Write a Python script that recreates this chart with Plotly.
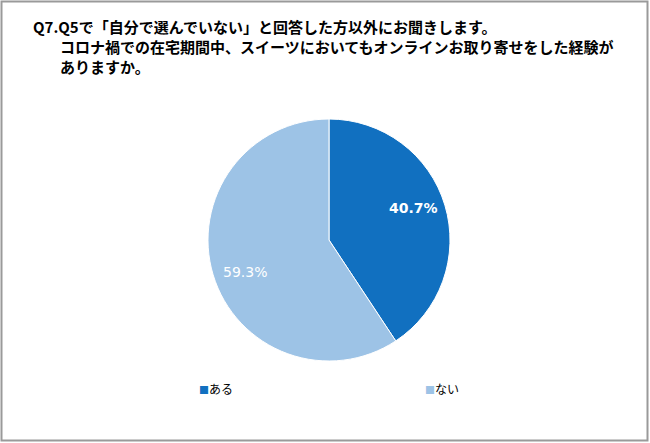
import math
import plotly.graph_objects as go

labels = ["ある", "ない"]
values = [40.7, 59.3]
colors = ["#1170C0", "#9DC3E6"]
title_lines = [
    "Q7.Q5で「自分で選んでいない」と回答した方以外にお聞きします。",
    "コロナ禍での在宅期間中、スイーツにおいてもオンラインお取り寄せをした経験が",
    "ありますか。",
]

W, H = 650, 443
CX, CY, R = 329, 240, 121
fig = go.Figure()
fig.add_trace(go.Pie(
    labels=labels, values=values, sort=False, direction="clockwise", rotation=0,
    marker=dict(colors=colors, line=dict(color="white", width=1)),
    textinfo="none",
    domain=dict(x=[(CX - R) / W, (CX + R) / W], y=[(H - CY - R) / H, (H - CY + R) / H]),
    showlegend=False, hoverinfo="label+percent",
))

# slice labels placed near mid-angle of each slice
total = sum(values)
cum = 0.0
for i, v in enumerate(values):
    mid = (cum + v / 2) / total * 2 * math.pi - math.radians(3.8)
    cum += v
    r = 0.745 * R
    px = CX + r * math.sin(mid)
    py = CY - r * math.cos(mid)
    txt = "%.1f%%" % v
    if i == 0:
        txt = "<b>%s</b>" % txt
    fig.add_annotation(
        x=px / W, y=1 - py / H, xref="paper", yref="paper", xanchor="center", yanchor="middle",
        text=txt, showarrow=False,
        font=dict(family="DejaVu Sans", size=14, color="white"),
    )

title_x = [31, 58, 58]
title_y = [27, 46.5, 66]
for tx, ty, t in zip(title_x, title_y, title_lines):
    fig.add_annotation(
        x=tx / W, y=1 - ty / H, xref="paper", yref="paper", xanchor="left", yanchor="middle",
        text="<b>%s</b>" % t, align="left", showarrow=False,
        font=dict(family="Noto Sans CJK JP", size=15, color="#000000"),
    )

leg_x = [197, 423]
for lx, lab, col in zip(leg_x, labels, colors):
    fig.add_annotation(
        x=lx / W, y=1 - 388 / H, xref="paper", yref="paper", xanchor="left", yanchor="middle",
        text="<span style='color:%s;font-size:10px'>■</span>%s" % (col, lab), showarrow=False,
        font=dict(family="Noto Sans CJK JP", size=12, color="#000000"),
    )

fig.add_shape(type="rect", xref="paper", yref="paper",
              x0=1.5 / W, x1=647.5 / W, y0=1 - 440.5 / H, y1=1 - 1.5 / H,
              line=dict(color="#9a9a9a", width=2))

fig.update_layout(width=W, height=H, margin=dict(l=0, r=0, t=0, b=0),
                  paper_bgcolor="white", plot_bgcolor="white")
fig.write_html("out.html")
